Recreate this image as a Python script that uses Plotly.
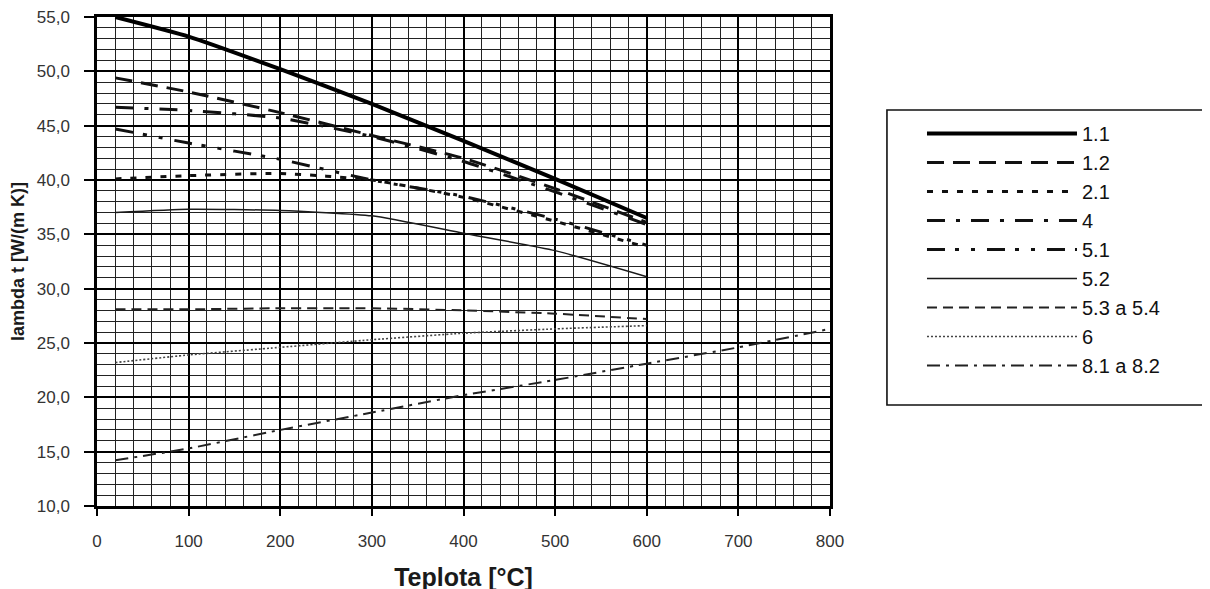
import plotly.graph_objects as go

# ---- data ----
T = [20, 100, 200, 300, 400, 500, 600]
T_long = [20, 100, 200, 300, 400, 500, 600, 700, 800]

s_11 = [55.0, 53.2, 50.2, 47.0, 43.6, 40.1, 36.5]
s_12 = [49.4, 48.1, 46.2, 44.1, 42.0, 39.2, 36.1]
s_21 = [40.1, 40.4, 40.6, 40.0, 38.4, 36.2, 33.8]
s_4 = [46.7, 46.4, 45.7, 44.0, 41.7, 38.9, 35.9]
s_51 = [44.7, 43.4, 41.9, 40.0, 38.5, 36.4, 34.0]
s_52 = [37.0, 37.3, 37.2, 36.7, 35.1, 33.5, 31.1]
s_534 = [28.1, 28.1, 28.2, 28.2, 28.0, 27.7, 27.2]
s_6 = [23.2, 23.9, 24.6, 25.3, 25.9, 26.3, 26.6]
s_812 = [14.2, 15.3, 17.0, 18.6, 20.2, 21.6, 23.1, 24.6, 26.3]

names = ["1.1", "1.2", "2.1", "4", "5.1", "5.2", "5.3 a 5.4", "6", "8.1 a 8.2"]
x_ticks = [0, 100, 200, 300, 400, 500, 600, 700, 800]

series = [
    (T, s_11, dict(width=4, dash="solid", color="#000000")),
    (T, s_12, dict(width=3, dash="17px,9px", color="#111111")),
    (T, s_21, dict(width=3, dash="6px,9px", color="#111111")),
    (T, s_4, dict(width=3, dash="18px,11px,4px,11px", color="#111111")),
    (T, s_51, dict(width=3, dash="18px,10px,4px,12px,4px,12px", color="#111111")),
    (T, s_52, dict(width=1.5, dash="solid", color="#1a1a1a")),
    (T, s_534, dict(width=2, dash="10px,6px", color="#222222")),
    (T, s_6, dict(width=1.6, dash="2px,2px", color="#444444")),
    (T_long, s_812, dict(width=2, dash="13px,6px,3px,6px", color="#222222")),
]

fig = go.Figure()
for (xs, ys, ln), nm in zip(series, names):
    fig.add_trace(go.Scatter(x=xs, y=ys, mode="lines", name=nm,
                             line=dict(shape="spline", smoothing=0.5, **ln)))

font_family = "Liberation Sans, Arial, sans-serif"

# legend frame (drawn as a layout shape, legend itself has no border)
fig.add_shape(type="rect", xref="paper", yref="paper",
              x0=1.0777, x1=1.5155, y0=0.2065, y1=0.8098,
              line=dict(color="#111111", width=1.6), fillcolor="rgba(0,0,0,0)",
              layer="above")

fig.update_layout(
    width=1210, height=589,
    margin=dict(l=89, r=388, t=9, b=91, autoexpand=False),
    paper_bgcolor="white", plot_bgcolor="white",
    separators=",.",
    font=dict(family=font_family, color="#222222", size=17),
    showlegend=True,
    legend=dict(
        x=1.1255, y=0.8016, xanchor="left", yanchor="top",
        borderwidth=0, bgcolor="rgba(0,0,0,0)",
        font=dict(size=20, color="#111111", family=font_family),
        itemwidth=150, tracegroupgap=0,
    ),
)

fig.update_xaxes(
    range=[0, 800], tickvals=x_ticks, ticktext=[str(v) for v in x_ticks],
    showgrid=True, gridcolor="#000000", gridwidth=2,
    minor=dict(dtick=20, showgrid=True, gridcolor="#222222", gridwidth=1.2),
    showline=True, linecolor="#000000", linewidth=2.5, mirror=True,
    ticks="outside", ticklen=7, tickcolor="#000000", tickwidth=1.5,
    ticklabelstandoff=11, ticklabeloverflow="allow",
    tickfont=dict(size=17, color="#333333"),
    zeroline=False, automargin=False,
    title=dict(text="<b>Teplota [°C]</b>", font=dict(size=25, color="#1a1a1a"), standoff=19),
)
fig.update_yaxes(
    range=[10, 55], dtick=5, tick0=10, tickformat=".1f",
    showgrid=True, gridcolor="#000000", gridwidth=2,
    minor=dict(dtick=1, showgrid=True, gridcolor="#222222", gridwidth=1.2),
    showline=True, linecolor="#000000", linewidth=2.5, mirror=True,
    ticks="outside", ticklen=10, tickcolor="#000000", tickwidth=1.5,
    ticklabelstandoff=11, ticklabeloverflow="allow",
    tickfont=dict(size=17, color="#333333"),
    zeroline=False, automargin=False,
    title=dict(text="<b>lambda t [W/(m K)]</b>", font=dict(size=18, color="#1a1a1a"), standoff=8),
)

fig.write_html("out.html")
